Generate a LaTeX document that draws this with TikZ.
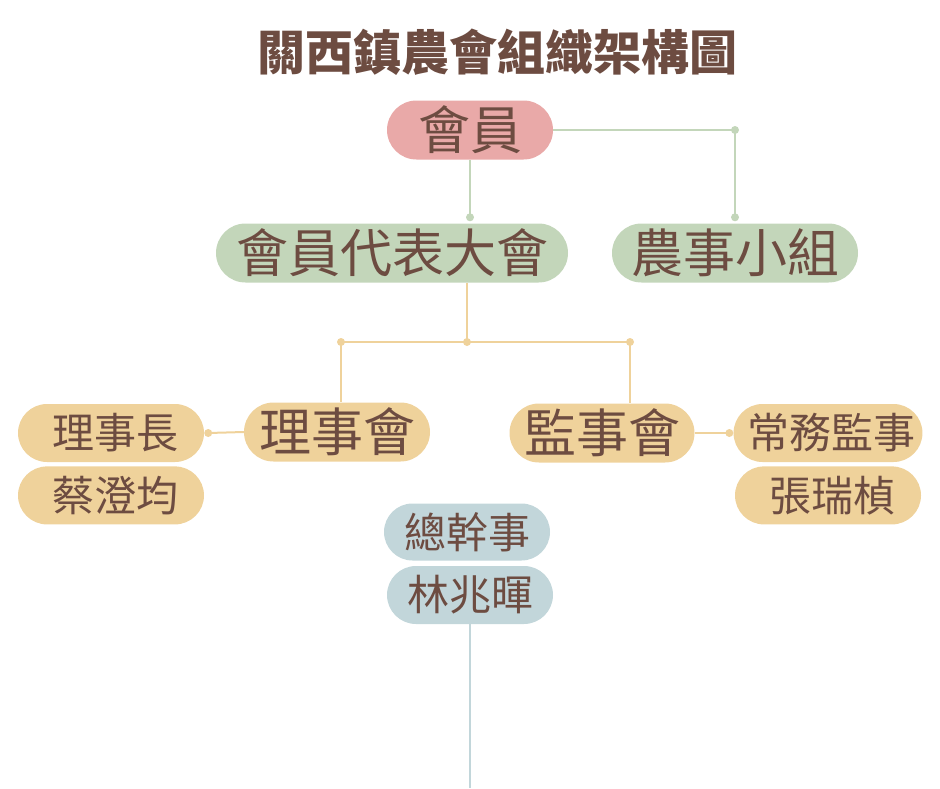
\documentclass[tikz,border=0pt]{standalone}
\usepackage{fontspec}
\setmainfont{Noto Sans CJK TC}
\usepackage{xcolor}
\definecolor{textbrown}{RGB}{109, 76, 65}
\definecolor{memberpink}{RGB}{233, 169, 168}
\definecolor{assemblygreen}{RGB}{195, 214, 186}
\definecolor{boardorange}{RGB}{239, 210, 155}
\definecolor{staffblue}{RGB}{194, 214, 218}
\usepackage{tikz}
\usetikzlibrary{shapes.misc,positioning}

\begin{document}
\begin{tikzpicture}[
    x=1pt, y=-1pt,
    pill/.style={rounded rectangle, inner sep=0pt, minimum height=59pt, text=textbrown, font=\fontsize{52}{52}\selectfont},
    subpill/.style={pill, minimum height=58pt, font=\fontsize{42}{42}\selectfont},
    link/.style={line width=2pt},
    joint/.style={circle, inner sep=0pt, minimum size=8pt}
]
\useasboundingbox (0,0) rectangle (940,788);

\node[text=textbrown, font=\bfseries\fontsize{48}{48}\selectfont] (title) at (497,52) {關西鎮農會組織架構圖};

% top level
\node[pill, fill=memberpink, minimum width=166pt] (member) at (470,130) {會員};
\node[pill, fill=assemblygreen, minimum width=352pt] (assembly) at (392,253) {會員代表大會};
\node[pill, fill=assemblygreen, minimum width=246pt] (group) at (735,253) {農事小組};

% boards
\node[pill, fill=boardorange, minimum width=186pt] (board) at (337,432) {理事會};
\node[pill, fill=boardorange, minimum width=185pt] (supervisors) at (602,433) {監事會};
\node[subpill, fill=boardorange, minimum width=186pt] (chair) at (111,433) {\hspace{8pt}理事長};
\node[subpill, fill=boardorange, minimum width=186pt, below=4pt of chair] (chairname) {\hspace{8pt}蔡澄均};
\node[subpill, fill=boardorange, minimum width=186pt] (standing) at (828,433) {\hspace{6pt}常務監事};
\node[subpill, fill=boardorange, minimum width=186pt, below=4pt of standing] (standingname) {\hspace{8pt}張瑞楨};

% general manager
\node[subpill, fill=staffblue, minimum width=166pt, minimum height=57pt] (manager) at (467,532) {總幹事};
\node[subpill, fill=staffblue, minimum width=166pt] (managername) at (470,595) {林兆暉};

% green links
\coordinate (assemblyin) at ([yshift=6pt]assembly.north -| member.south);
\coordinate (groupbend) at (member.east -| group.north);
\coordinate (groupin) at ([yshift=6pt]group.north);
\draw[link, assemblygreen] (member.south) -- (assemblyin);
\draw[link, assemblygreen] (member.east) -- (groupbend) -- (groupin);
\foreach \p in {assemblyin, groupbend, groupin}
    \node[joint, fill=assemblygreen] at (\p) {};

% orange links
\coordinate (split) at (467,342);
\coordinate (boardbend) at (341,342);
\coordinate (supbend) at (630,342);
\coordinate (chairin) at ([xshift=4pt]chair.east);
\coordinate (standingin) at ([xshift=-4pt]standing.west);
\draw[link, boardorange] (assembly.south -| split) -- (split);
\draw[link, boardorange] (boardbend) -- (supbend);
\draw[link, boardorange] (boardbend) -- (boardbend |- board.north);
\draw[link, boardorange] (supbend) -- (supbend |- supervisors.north);
\draw[link, boardorange] (board.west) -- (chairin);
\draw[link, boardorange] (supervisors.east) -- (standingin);
\foreach \p in {split, boardbend, supbend, chairin, standingin}
    \node[joint, fill=boardorange] at (\p) {};

% blue link
\coordinate (bottomend) at (470,788);
\draw[link, staffblue] (managername.south) -- (bottomend);

\end{tikzpicture}
\end{document}
